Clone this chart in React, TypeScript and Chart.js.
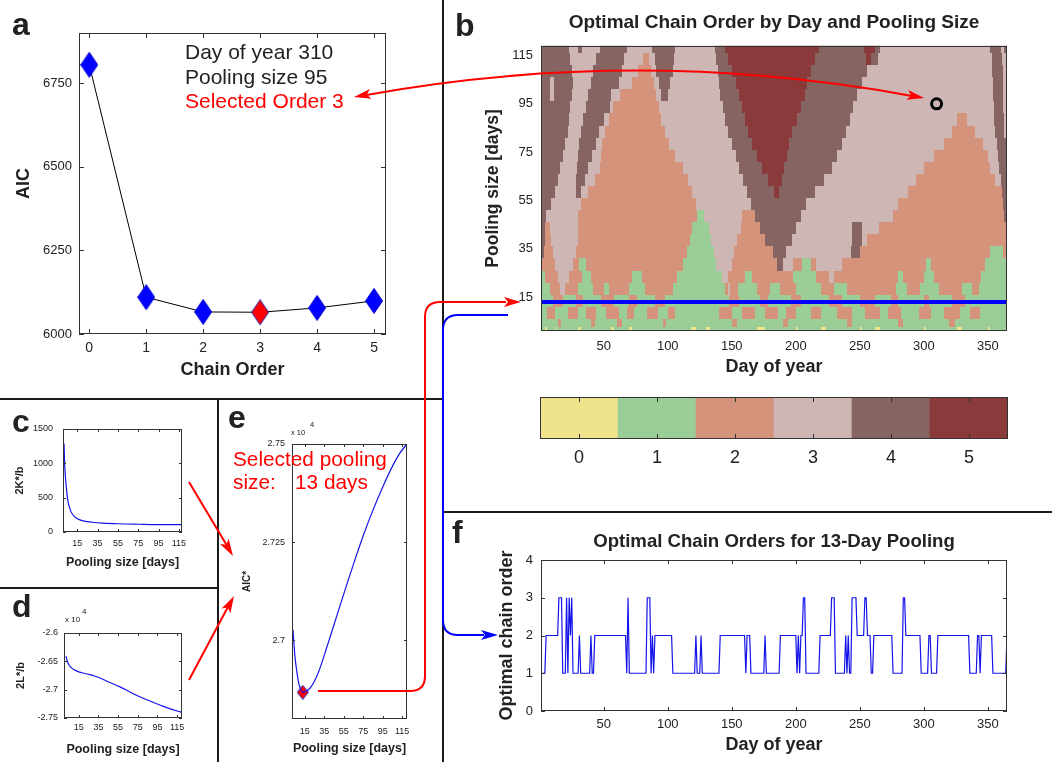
import React, { useEffect, useRef } from 'react';
import { Chart, registerables } from 'chart.js';

Chart.register(...registerables);

const FONT = "'Liberation Sans', Arial, Helvetica, sans-serif";
const INK = '#222222';

// ---------------- Panel a : AIC by chain order ----------------
const chainOrders = [0, 1, 2, 3, 4, 5];
const aicByOrder = [6805, 6110, 6066, 6065, 6078, 6099];
const selectedOrder = 3;
const aicTicks = [6000, 6250, 6500, 6750];
const exampleDay = 310;
const examplePool = 95;

// ---------------- Panel b : optimal order heat map ----------------
const orderLevels = ['0', '1', '2', '3', '4', '5'];
const orderColors = ['#EFE48B', '#9BCE96', '#D4937A', '#CDB6B4', '#856461', '#8A3A3A'];
const poolRowStarts = [1, 2.5, 6, 11, 16, 21, 26, 31, 36, 41, 46, 51, 56, 61, 66, 71, 76, 81, 86, 91, 96, 101, 106, 111, 116];
const poolRowTop = 121;
// each row (bottom -> top): [order, endDay, order, endDay, ...]
const orderRuns: number[][] = [
  [1, 4, 0, 6, 1, 12, 0, 13, 1, 30, 0, 32, 1, 56, 0, 58, 1, 70, 0, 72, 1, 118, 0, 122, 1, 130, 0, 133, 1, 170, 0, 176, 1, 200, 0, 202, 1, 220, 0, 224, 1, 250, 0, 252, 1, 262, 0, 266, 1, 300, 0, 302, 1, 326, 0, 330, 1, 350, 0, 352, 1, 366],
  [1, 14, 2, 17, 1, 40, 2, 43, 1, 60, 2, 64, 1, 96, 2, 99, 1, 150, 2, 154, 1, 190, 2, 194, 1, 240, 2, 244, 1, 280, 2, 284, 1, 320, 2, 324, 1, 366],
  [1, 6, 2, 12, 1, 22, 2, 30, 1, 36, 2, 44, 1, 52, 2, 62, 1, 68, 2, 74, 1, 84, 2, 92, 1, 100, 2, 106, 1, 140, 2, 150, 1, 158, 2, 168, 1, 176, 2, 186, 1, 192, 2, 200, 1, 212, 2, 220, 1, 232, 2, 244, 1, 254, 2, 266, 1, 272, 2, 282, 1, 296, 2, 306, 1, 316, 2, 328, 1, 336, 2, 344, 1, 366],
  [1, 10, 2, 18, 1, 28, 2, 34, 1, 48, 2, 58, 1, 70, 2, 76, 1, 90, 2, 98, 1, 148, 2, 156, 1, 172, 2, 178, 1, 196, 2, 204, 1, 226, 2, 236, 1, 250, 2, 262, 1, 274, 2, 280, 1, 300, 2, 304, 1, 322, 2, 332, 1, 366],
  [1, 8, 2, 16, 3, 20, 2, 30, 1, 42, 2, 50, 1, 54, 2, 70, 1, 82, 2, 104, 1, 145, 2, 147, 3, 149, 2, 155, 1, 170, 2, 180, 1, 188, 2, 200, 1, 220, 2, 230, 1, 240, 2, 278, 1, 287, 2, 297, 1, 312, 2, 330, 1, 338, 2, 343, 1, 366],
  [1, 4, 2, 14, 3, 23, 2, 33, 1, 40, 2, 72, 1, 80, 2, 107, 1, 142, 3, 147, 2, 160, 1, 166, 2, 198, 1, 216, 2, 226, 3, 230, 2, 280, 1, 284, 2, 300, 1, 308, 2, 345, 1, 366],
  [2, 12, 3, 26, 2, 31, 1, 36, 2, 112, 1, 138, 3, 150, 2, 185, 4, 190, 3, 198, 2, 205, 1, 212, 2, 216, 3, 236, 2, 302, 1, 306, 2, 348, 1, 366],
  [4, 3, 2, 10, 3, 28, 2, 115, 1, 136, 3, 152, 2, 182, 4, 192, 3, 243, 4, 250, 2, 352, 1, 362, 2, 366],
  [4, 4, 2, 9, 3, 30, 2, 117, 1, 134, 3, 154, 2, 176, 4, 197, 3, 244, 4, 252, 3, 256, 2, 366],
  [4, 4, 2, 8, 3, 30, 2, 119, 1, 132, 3, 157, 2, 172, 4, 200, 3, 244, 4, 252, 3, 265, 2, 366],
  [4, 5, 3, 30, 2, 123, 1, 128, 3, 158, 2, 168, 4, 204, 3, 276, 2, 363, 4, 366],
  [4, 9, 3, 32, 2, 122, 3, 165, 4, 208, 3, 280, 2, 362, 4, 366],
  [4, 12, 3, 28, 4, 32, 3, 38, 2, 119, 3, 162, 4, 183, 5, 187, 4, 215, 3, 288, 2, 361, 4, 366],
  [4, 14, 3, 28, 4, 35, 3, 43, 2, 116, 3, 159, 4, 178, 5, 189, 4, 222, 3, 294, 2, 356, 3, 360, 4, 365, 3, 366],
  [4, 16, 3, 29, 4, 38, 3, 47, 2, 112, 3, 156, 4, 174, 5, 191, 4, 228, 3, 300, 2, 352, 3, 359, 4, 365, 3, 366],
  [4, 18, 3, 30, 4, 41, 3, 48, 2, 106, 3, 153, 4, 170, 5, 193, 4, 232, 3, 308, 2, 350, 3, 358, 4, 364, 3, 366],
  [4, 20, 3, 31, 4, 44, 3, 49, 2, 101, 3, 150, 4, 166, 5, 195, 4, 236, 3, 316, 2, 346, 3, 357, 4, 364, 3, 366],
  [4, 22, 3, 32, 4, 46, 3, 51, 2, 98, 3, 147, 4, 163, 5, 197, 4, 239, 3, 322, 2, 340, 3, 356, 4, 363, 3, 366],
  [4, 23, 3, 34, 4, 50, 3, 54, 2, 95, 3, 145, 4, 160, 5, 201, 4, 242, 3, 326, 2, 334, 3, 355, 4, 363, 3, 366],
  [4, 24, 3, 36, 4, 55, 3, 57, 2, 93, 3, 143, 4, 158, 5, 204, 4, 245, 3, 355, 4, 362, 3, 366],
  [4, 8, 3, 11, 4, 25, 3, 38, 4, 56, 3, 63, 2, 91, 3, 95, 4, 100, 3, 141, 4, 156, 5, 207, 4, 248, 3, 354, 4, 362, 3, 366],
  [4, 8, 3, 11, 4, 26, 3, 40, 4, 62, 3, 72, 2, 89, 3, 93, 4, 102, 3, 140, 4, 153, 5, 209, 4, 252, 3, 354, 4, 362, 3, 366],
  [4, 25, 3, 42, 4, 64, 3, 77, 2, 87, 3, 91, 4, 104, 3, 139, 4, 150, 5, 212, 4, 256, 3, 353, 4, 362, 3, 366],
  [4, 24, 3, 44, 4, 66, 3, 81, 2, 85, 3, 90, 4, 105, 3, 138, 4, 147, 5, 215, 4, 255, 5, 259, 4, 264, 3, 353, 4, 361, 3, 366],
  [4, 23, 3, 30, 4, 33, 3, 47, 4, 68, 3, 88, 4, 106, 3, 137, 4, 145, 5, 218, 4, 253, 5, 262, 4, 266, 3, 352, 4, 360, 3, 363, 4, 366],
];
const selectedPoolingSize = 13;
const dayTicks = [50, 100, 150, 200, 250, 300, 350];
const poolTicks = [15, 35, 55, 75, 95, 115];
const poolSmallTicks = [15, 35, 55, 75, 95, 115];

// ---------------- Panel c : 2K*/b ----------------
const poolC = [2, 2.5, 3, 4, 5, 6, 8, 10, 13, 17, 22, 30, 40, 55, 75, 95, 118];
const kTerm = [1290, 1050, 880, 700, 540, 440, 330, 265, 215, 180, 158, 142, 130, 120, 113, 108, 108];
const kTicks = [0, 500, 1000, 1500];

// ---------------- Panel d : 2L*/b (x 10^4) ----------------
const poolD = [2, 3, 5, 8, 11, 15, 20, 26, 31, 36, 46, 57, 67, 77, 88, 98, 108, 120];
const lTerm = [-2.641, -2.648, -2.656, -2.662, -2.6655, -2.6685, -2.671, -2.6735, -2.6758, -2.679, -2.687, -2.695, -2.704, -2.7125, -2.7205, -2.7275, -2.734, -2.74];
const lTicks = [-2.75, -2.7, -2.65, -2.6];

// ---------------- Panel e : AIC* (x 10^4) ----------------
const poolE = [3, 5, 7, 9, 11, 13, 15, 18, 21, 25, 29, 33, 37, 41, 47, 53, 60, 68, 76, 85, 95, 105, 113, 120];
const aicStar = [2.7027, 2.696, 2.692, 2.689, 2.6875, 2.6868, 2.6869, 2.6873, 2.688, 2.6896, 2.6918, 2.6946, 2.6977, 2.7008, 2.7055, 2.7102, 2.7156, 2.7216, 2.7273, 2.7331, 2.739, 2.7443, 2.7478, 2.75];
const aicStarTicks = [2.7, 2.725, 2.75];

// ---------------- Panel f : order for 13-day pooling ----------------
const orderChangeDay = [1, 5, 15, 18, 21, 22, 23, 24, 25, 26, 31, 32, 40, 41, 43, 68, 69, 70, 84, 87, 88, 89, 90, 104, 122, 123, 126, 127, 141, 161, 162, 165, 176, 177, 188, 201, 202, 203, 204, 206, 208, 219, 228, 231, 239, 240, 241, 242, 244, 248, 254, 256, 259, 261, 276, 284, 286, 298, 304, 306, 311, 336, 342, 344, 345, 354, 365];
const orderChangeValue = [1, 2, 3, 1, 3, 1, 3, 2, 3, 1, 2, 1, 2, 1, 2, 1, 3, 1, 3, 1, 2, 1, 2, 1, 2, 1, 2, 1, 2, 1, 2, 1, 2, 1, 2, 1, 2, 1, 2, 3, 1, 2, 3, 1, 2, 1, 2, 1, 3, 2, 3, 2, 1, 2, 1, 3, 2, 1, 2, 1, 2, 1, 2, 1, 2, 1, 2];
const orderTicks = [0, 1, 2, 3, 4];

// ---------------- helpers ----------------
type AxisSpec = {
  min: number; max: number; ticks: number[]; size: number; font: number; pad: number;
  title?: string; titleFont?: number; titlePad?: number;
};

function axis(dir: 'x' | 'y', s: AxisSpec): any {
  return {
    type: 'linear',
    position: dir === 'x' ? 'bottom' : 'left',
    min: s.min,
    max: s.max,
    afterBuildTicks: (sc: any) => { sc.ticks = s.ticks.map((v) => ({ value: v })); },
    afterFit: (sc: any) => { if (dir === 'x') sc.height = s.size; else sc.width = s.size; },
    grid: { display: false, drawTicks: false },
    border: { display: false },
    ticks: {
      font: { family: FONT, size: s.font }, color: INK, padding: s.pad,
      autoSkip: false, maxRotation: 0, callback: (v: any) => String(v),
    },
    title: s.title
      ? {
          display: true, text: s.title, color: INK,
          font: { family: FONT, size: s.titleFont, weight: 'bold' },
          padding: dir === 'x' ? { top: 0, bottom: s.titlePad } : { top: s.titlePad, bottom: 0 },
        }
      : { display: false },
  };
}

const boxPlugin = {
  id: 'mbox',
  afterDatasetsDraw(chart: any, _a: any, opts: any) {
    const { ctx, chartArea: a } = chart;
    ctx.save();
    ctx.strokeStyle = '#333333';
    ctx.lineWidth = 1;
    ctx.strokeRect(Math.round(a.left) + 0.5, Math.round(a.top) + 0.5, Math.round(a.width) - 1, Math.round(a.height) - 1);
    const len = opts && opts.tickLen ? opts.tickLen : 0;
    if (len > 0) {
      ctx.beginPath();
      const xs = chart.scales.x;
      if (xs) {
        xs.ticks.forEach((t: any) => {
          const px = Math.round(xs.getPixelForValue(t.value)) + 0.5;
          ctx.moveTo(px, a.bottom); ctx.lineTo(px, a.bottom - len);
          ctx.moveTo(px, a.top); ctx.lineTo(px, a.top + len);
        });
      }
      const ys = chart.scales.y;
      if (ys && !(opts && opts.noY)) {
        ys.ticks.forEach((t: any) => {
          const py = Math.round(ys.getPixelForValue(t.value)) + 0.5;
          ctx.moveTo(a.left, py); ctx.lineTo(a.left + len, py);
          ctx.moveTo(a.right, py); ctx.lineTo(a.right - len, py);
        });
      }
      ctx.stroke();
    }
    ctx.restore();
  },
};

const heatPlugin = {
  id: 'orderHeat',
  beforeDatasetsDraw(chart: any) {
    const { ctx, chartArea: a, scales } = chart;
    const xs = scales.x;
    const ys = scales.y;
    ctx.save();
    ctx.beginPath();
    ctx.rect(a.left, a.top, a.width, a.height);
    ctx.clip();
    orderRuns.forEach((row, i) => {
      const lo = poolRowStarts[i];
      const hi = i + 1 < poolRowStarts.length ? poolRowStarts[i + 1] : poolRowTop;
      const yT = Math.round(ys.getPixelForValue(hi));
      const yB = Math.round(ys.getPixelForValue(lo));
      let start = 0.5;
      for (let k = 0; k < row.length; k += 2) {
        const end = row[k + 1];
        const x0 = Math.round(xs.getPixelForValue(start));
        const x1 = Math.round(xs.getPixelForValue(end));
        ctx.fillStyle = orderColors[row[k]];
        ctx.fillRect(x0, yT, x1 - x0, yB - yT);
        start = end;
      }
    });
    ctx.restore();
  },
};

function diamond(w: number, h: number, fill: string, stroke: string) {
  const c = document.createElement('canvas');
  c.width = w;
  c.height = h;
  const g = c.getContext('2d')!;
  g.beginPath();
  g.moveTo(w / 2, 0.5);
  g.lineTo(w - 0.5, h / 2);
  g.lineTo(w / 2, h - 0.5);
  g.lineTo(0.5, h / 2);
  g.closePath();
  g.fillStyle = fill;
  g.fill();
  g.strokeStyle = stroke;
  g.lineWidth = 1;
  g.stroke();
  return c;
}

function baseOptions(padTop: number, padRight: number, padLeft = 0) {
  return {
    responsive: false,
    animation: false,
    devicePixelRatio: 1,
    events: [],
    layout: { padding: { top: padTop, right: padRight, left: padLeft, bottom: 0 } },
  };
}

const noLegend = { legend: { display: false }, tooltip: { enabled: false }, title: { display: false } };

function ChartCanvas({ x, y, w, h, make }: { x: number; y: number; w: number; h: number; make: () => any }) {
  const ref = useRef<HTMLCanvasElement>(null);
  useEffect(() => {
    if (!ref.current) return;
    const chart = new Chart(ref.current, make());
    return () => chart.destroy();
  }, []);
  return (
    <canvas ref={ref} width={w} height={h}
      style={{ position: 'absolute', left: x, top: y, width: w, height: h }} />
  );
}

// ---------------- chart configs ----------------
const makeA = () => {
  const blue = diamond(18, 26, '#0000FF', '#0000D0');
  const red = diamond(18, 26, '#FF0000', '#2020B0');
  return {
    type: 'line',
    data: {
      datasets: [{
        data: chainOrders.map((o, i) => ({ x: o, y: aicByOrder[i] })),
        borderColor: '#000000', borderWidth: 1, pointRadius: 10,
        pointStyle: chainOrders.map((o) => (o === selectedOrder ? red : blue)),
        clip: false,
      }],
    },
    options: {
      ...baseOptions(33, 14),
      scales: {
        x: axis('x', { min: -0.18, max: 5.21, ticks: chainOrders, size: 61, font: 14, pad: 5.6, title: 'Chain Order', titleFont: 18, titlePad: 14 }),
        y: axis('y', { min: 6000, max: 6900, ticks: aicTicks, size: 79, font: 13, pad: 7, title: 'AIC', titleFont: 18, titlePad: 13.7 }),
      },
      plugins: { ...noLegend, mbox: { tickLen: 5 } },
    },
    plugins: [boxPlugin],
  };
};

const makeB = () => ({
  type: 'scatter',
  data: {
    datasets: [
      {
        type: 'line',
        data: [{ x: 1, y: selectedPoolingSize }, { x: 365, y: selectedPoolingSize }],
        borderColor: '#0000FF', borderWidth: 4, pointRadius: 0,
      },
      {
        data: [{ x: exampleDay, y: examplePool }],
        pointStyle: 'circle', pointRadius: 5, pointBorderWidth: 3,
        pointBorderColor: '#000000', pointBackgroundColor: 'rgba(0,0,0,0)',
      },
    ],
  },
  options: {
    ...baseOptions(12, 45),
    scales: {
      x: axis('x', { min: 1, max: 365, ticks: dayTicks, size: 49, font: 13, pad: 7.7, title: 'Day of year', titleFont: 18, titlePad: 2.2 }),
      y: axis('y', { min: 1, max: 119, ticks: poolTicks, size: 95, font: 13, pad: 8, title: 'Pooling size [days]', titleFont: 17.5, titlePad: 36.5 }),
    },
    plugins: { ...noLegend, mbox: { tickLen: 0 } },
  },
  plugins: [heatPlugin, boxPlugin],
});

const makeBar = () => ({
  type: 'bar',
  data: {
    labels: orderLevels,
    datasets: [{
      data: orderLevels.map(() => 1),
      backgroundColor: orderColors,
      borderWidth: 0,
      barPercentage: 1,
      categoryPercentage: 1,
    }],
  },
  options: {
    ...baseOptions(7, 22, 20),
    scales: {
      x: {
        type: 'category',
        afterFit: (sc: any) => { sc.height = 41; },
        grid: { display: false, drawTicks: false },
        border: { display: false },
        ticks: { font: { family: FONT, size: 18 }, color: INK, padding: 8 },
      },
      y: { display: false, min: 0, max: 1 },
    },
    plugins: { ...noLegend, mbox: { tickLen: 5, noY: true } },
  },
  plugins: [boxPlugin],
});

const lineStyle = {
  borderColor: 'rgb(20,20,235)', borderWidth: 1.2, pointRadius: 0, cubicInterpolationMode: 'monotone',
};

const makeC = () => ({
  type: 'line',
  data: { datasets: [{ data: poolC.map((p, i) => ({ x: p, y: kTerm[i] })), ...lineStyle }] },
  options: {
    ...baseOptions(29, 36),
    scales: {
      x: axis('x', { min: 1, max: 118, ticks: poolSmallTicks, size: 56, font: 9, pad: 6.3, title: 'Pooling size [days]', titleFont: 12.5, titlePad: 17.5 }),
      y: axis('y', { min: 0, max: 1500, ticks: kTicks, size: 63, font: 9, pad: 10, title: '2K*/b', titleFont: 11, titlePad: 13.4 }),
    },
    plugins: { ...noLegend, mbox: { tickLen: 3 } },
  },
  plugins: [boxPlugin],
});

const makeD = () => ({
  type: 'line',
  data: { datasets: [{ data: poolD.map((p, i) => ({ x: p, y: lTerm[i] })), ...lineStyle }] },
  options: {
    ...baseOptions(43, 36),
    scales: {
      x: axis('x', { min: 0, max: 120, ticks: poolSmallTicks, size: 44, font: 9, pad: 4.3, title: 'Pooling size [days]', titleFont: 12.5, titlePad: 4.5 }),
      y: axis('y', { min: -2.75, max: -2.6, ticks: lTicks, size: 64, font: 9, pad: 6, title: '2L*/b', titleFont: 11, titlePad: 14.4 }),
    },
    plugins: { ...noLegend, mbox: { tickLen: 3 } },
  },
  plugins: [boxPlugin],
});

const makeE = () => {
  const red = diamond(12, 15, '#FF0000', '#2020B0');
  const minIdx = aicStar.indexOf(Math.min(...aicStar));
  return {
    type: 'line',
    data: {
      datasets: [
        { data: poolE.map((p, i) => ({ x: p, y: aicStar[i] })), ...lineStyle },
        { data: [{ x: poolE[minIdx], y: aicStar[minIdx] }], showLine: false, pointRadius: 6, pointStyle: red, clip: false },
      ],
    },
    options: {
      ...baseOptions(44, 34),
      scales: {
        x: axis('x', { min: 2, max: 120, ticks: poolSmallTicks, size: 43, font: 9, pad: 6.8, title: 'Pooling size [days]', titleFont: 12.5, titlePad: 5.5 }),
        y: axis('y', { min: 2.68, max: 2.75, ticks: aicStarTicks, size: 72, font: 9, pad: 7, title: 'AIC*', titleFont: 10, titlePad: 21 }),
      },
      plugins: { ...noLegend, mbox: { tickLen: 3 } },
    },
    plugins: [boxPlugin],
  };
};

const makeF = () => {
  const series = [];
  for (let d = 1; d <= 365; d++) {
    let v = orderChangeValue[0];
    for (let i = 0; i < orderChangeDay.length; i++) if (orderChangeDay[i] <= d) v = orderChangeValue[i];
    series.push({ x: d, y: v });
  }
  return {
    type: 'line',
    data: { datasets: [{ data: series, borderColor: 'rgb(20,20,235)', borderWidth: 1.2, pointRadius: 0 }] },
    options: {
      ...baseOptions(45, 45),
      scales: {
        x: axis('x', { min: 1, max: 365, ticks: dayTicks, size: 51, font: 13, pad: 5.2, title: 'Day of year', titleFont: 18, titlePad: 5.7 }),
        y: axis('y', { min: 0, max: 4, ticks: orderTicks, size: 95, font: 13, pad: 8, title: 'Optimal chain order', titleFont: 18, titlePad: 50.7 }),
      },
      plugins: { ...noLegend, mbox: { tickLen: 4 } },
    },
    plugins: [boxPlugin],
  };
};

// ---------------- text + arrows ----------------
function T({ x, b, size, bold, color = INK, center, children }: {
  x: number; b: number; size: number; bold?: boolean; color?: string; center?: boolean; children: React.ReactNode;
}) {
  return (
    <div style={{
      position: 'absolute', left: x, top: b - 0.8465 * size, fontSize: size, lineHeight: `${size}px`,
      fontWeight: bold ? 'bold' : 'normal', color, whiteSpace: 'pre', fontFamily: FONT,
      transform: center ? 'translateX(-50%)' : undefined,
    }}>{children}</div>
  );
}

function head(tx: number, ty: number, dx: number, dy: number, len = 17, hw = 5, notch = 4) {
  const m = Math.hypot(dx, dy);
  const ux = dx / m, uy = dy / m;
  const px = -uy, py = ux;
  const bx = tx - ux * len, by = ty - uy * len;
  const nx = tx - ux * (len - notch), ny = ty - uy * (len - notch);
  return `${tx},${ty} ${bx + px * hw},${by + py * hw} ${nx},${ny} ${bx - px * hw},${by - py * hw}`;
}

export default function App() {
  return (
    <div style={{ position: 'absolute', left: 0, top: 0, width: 1052, height: 762, background: '#ffffff', overflow: 'hidden', fontFamily: FONT }}>
      <ChartCanvas x={0} y={0} w={400} h={395} make={makeA} />
      <ChartCanvas x={446} y={30} w={606} h={350} make={makeB} />
      <ChartCanvas x={520} y={390} w={510} h={90} make={makeBar} />
      <ChartCanvas x={0} y={400} w={218} h={188} make={makeC} />
      <ChartCanvas x={0} y={590} w={218} h={172} make={makeD} />
      <ChartCanvas x={220} y={400} w={221} h={362} make={makeE} />
      <ChartCanvas x={446} y={515} w={606} h={247} make={makeF} />

      <svg width={1052} height={762} style={{ position: 'absolute', left: 0, top: 0 }}>
        <path d="M443,0 V762 M0,399 H443 M443,512 H1052 M218,399 V762 M0,588 H218" stroke="#1a1a1a" strokeWidth={2} fill="none" />
        <g stroke="#FF0000" strokeWidth={2} fill="none">
          <path d="M362,95.7 Q640,45 916,96.7" />
          <path d="M189,482 L229,549" />
          <path d="M189,680 L230,603" />
          <path d="M318,691 H410 Q425,691 425,676 V317 Q425,302 440,302 H506" />
        </g>
        <g fill="#FF0000">
          <polygon points={head(354, 97, -285, 52)} />
          <polygon points={head(924, 98, 284, 53)} />
          <polygon points={head(233, 556, 44, 74)} />
          <polygon points={head(234, 596, 45, -84)} />
          <polygon points={head(521, 302, 1, 0)} />
        </g>
        <path d="M508,315 H458 Q443,315 443,330 V620 Q443,635 458,635 H484" stroke="#0000FF" strokeWidth={2} fill="none" />
        <polygon points={head(498, 635, 1, 0)} fill="#0000FF" />
      </svg>

      {/* panel letters */}
      <T x={12} b={35} size={32} bold>a</T>
      <T x={455} b={36} size={32} bold>b</T>
      <T x={12} b={432} size={32} bold>c</T>
      <T x={12} b={617} size={32} bold>d</T>
      <T x={228} b={428} size={32} bold>e</T>
      <T x={452} b={543} size={32} bold>f</T>

      {/* panel a annotation */}
      <T x={185} b={59} size={21}>{`Day of year ${exampleDay}`}</T>
      <T x={185} b={83.5} size={21}>{`Pooling size ${examplePool}`}</T>
      <T x={185} b={108} size={21} color="#FF0000">{`Selected Order ${selectedOrder}`}</T>

      {/* titles */}
      <T x={774} b={28.5} size={19} bold center>Optimal Chain Order by Day and Pooling Size</T>
      <T x={774} b={548} size={18.6} bold center>{`Optimal Chain Orders for ${selectedPoolingSize}-Day Pooling`}</T>

      {/* exponent labels */}
      <T x={65} b={623} size={8}>x 10</T>
      <T x={82} b={615} size={8}>4</T>
      <T x={291} b={435} size={7.5}>x 10</T>
      <T x={310} b={427} size={7.5}>4</T>

      {/* panel e annotation */}
      <T x={233} b={467} size={20.8} color="#FF0000">Selected pooling</T>
      <T x={233} b={490} size={20.8} color="#FF0000">size:</T>
      <T x={295} b={490} size={20.8} color="#FF0000">{`${selectedPoolingSize} days`}</T>
    </div>
  );
}
